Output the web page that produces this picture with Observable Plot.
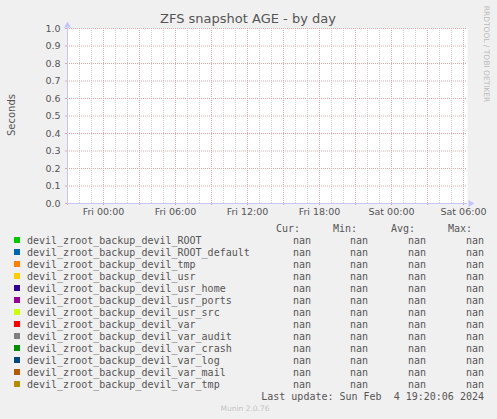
<!DOCTYPE html>
<html>
<head>
<meta charset="utf-8">
<script src="https://cdn.jsdelivr.net/npm/d3@7"></script>
<script src="https://cdn.jsdelivr.net/npm/@observablehq/plot@0.6"></script>
<style>
  html, body { margin: 0; padding: 0; background: #f0f0f0; }
</style>
</head>
<body>
<div id="chart"></div>
<script>
// ---- data ----
const title = "ZFS snapshot AGE - by day";
const yLabel = "Seconds";
const seriesNames = [
  "devil_zroot_backup_devil_ROOT",
  "devil_zroot_backup_devil_ROOT_default",
  "devil_zroot_backup_devil_tmp",
  "devil_zroot_backup_devil_usr",
  "devil_zroot_backup_devil_usr_home",
  "devil_zroot_backup_devil_usr_ports",
  "devil_zroot_backup_devil_usr_src",
  "devil_zroot_backup_devil_var",
  "devil_zroot_backup_devil_var_audit",
  "devil_zroot_backup_devil_var_crash",
  "devil_zroot_backup_devil_var_log",
  "devil_zroot_backup_devil_var_mail",
  "devil_zroot_backup_devil_var_tmp"
];
const seriesColors = ["#00CC00","#0066B3","#FF8000","#FFCC00","#330099","#990099","#CCFF00","#FF0000","#808080","#008F00","#00487D","#B35A00","#B38F00"];
const curValues = seriesNames.map(() => NaN);
const minValues = seriesNames.map(() => NaN);
const avgValues = seriesNames.map(() => NaN);
const maxValues = seriesNames.map(() => NaN);
const seriesPoints = []; // no samples recorded (all nan)
const xStart = new Date(Date.UTC(2024, 1, 1, 21, 0));
const xEnd = new Date(Date.UTC(2024, 1, 3, 6, 20));
const yTicks = [0, 0.1, 0.2, 0.3, 0.4, 0.5, 0.6, 0.7, 0.8, 0.9, 1.0];
const columnHeaders = ["Cur:", "Min:", "Avg:", "Max:"];
const lastUpdate = "Last update: Sun Feb  4 19:20:06 2024";
const watermark = "RRDTOOL / TOBI OETIKER";
const footer = "Munin 2.0.76";

// ---- chart ----
const W = 497, H = 419;
const minorHours = d3.utcHour.every(1).range(xStart, xEnd);
const majorHours = d3.utcHour.every(3).range(xStart, xEnd);
const labelHours = d3.utcHour.every(6).range(xStart, xEnd);
const axisBlue = "#c4c4ff";
const majorGrid = "#e6a6a6";
const minorGrid = "#d2d2d2";

const chart = Plot.plot({
  width: W,
  height: H,
  marginLeft: 67,
  marginRight: 30,
  marginTop: 28,
  marginBottom: 216,
  style: { background: "#f0f0f0", fontFamily: "DejaVu Sans", color: "#555", overflow: "visible" },
  x: { type: "utc", domain: [xStart, xEnd] },
  y: { domain: [0, 1] },
  marks: [
    Plot.frame({ fill: "white", stroke: null }),
    Plot.ruleX(minorHours, { y1: 0, y2: 1, stroke: minorGrid, strokeDasharray: "1,1" }),
    Plot.ruleX(majorHours, { y1: 0, y2: 1, stroke: majorGrid, strokeDasharray: "1,1" }),
    Plot.ruleY(yTicks, { x1: xStart, x2: xEnd, stroke: majorGrid, strokeDasharray: "1,1" }),
    ...seriesNames.map((name, i) =>
      Plot.line(seriesPoints.filter(d => d.series === name), { x: "t", y: "v", stroke: seriesColors[i] })),
    Plot.axisY({ ticks: yTicks, tickFormat: d3.format(".1f"), tickSize: 2, tickPadding: 5, stroke: majorGrid, fill: "#555", fontSize: 9.5, label: null }),
    Plot.axisX({ ticks: majorHours, tickFormat: () => "", tickSize: 2, stroke: majorGrid, label: null }),
    Plot.axisX({ ticks: labelHours, tickFormat: d3.utcFormat("%a %H:%M"), tickSize: 0, tickPadding: 5, fill: "#555", fontSize: 9.5, label: null }),
    Plot.ruleY([0], { x1: xStart, x2: xEnd, stroke: axisBlue }),
    Plot.ruleX([xStart], { y1: 0, y2: 1, stroke: axisBlue }),
    Plot.dot([[xStart, 1]], { x: d => d[0], y: d => d[1], symbol: "triangle", r: 2.6, fill: axisBlue, stroke: null, dy: -3 }),
    Plot.dot([[xEnd, 0]], { x: d => d[0], y: d => d[1], symbol: "triangle", r: 2.6, fill: axisBlue, stroke: null, dx: 3, rotate: 90 })
  ]
});
document.getElementById("chart").append(chart);

// ---- titles and legend ----
const svg = d3.select(chart);
const addText = (x, y, str, opts = {}) => svg.append("text")
  .attr("x", x).attr("y", y).attr("dy", opts.dy ?? "0.35em")
  .attr("text-anchor", opts.anchor ?? "start")
  .attr("font-family", opts.font ?? "DejaVu Sans Mono")
  .attr("font-size", opts.size ?? 10)
  .attr("fill", opts.fill ?? "#555")
  .attr("transform", opts.transform ?? null)
  .attr("xml:space", "preserve").style("white-space", "pre")
  .text(str);

addText(248, 23, title, { anchor: "middle", font: "DejaVu Sans", size: 13, dy: 0 });
addText(0, 0, yLabel, { anchor: "middle", font: "DejaVu Sans", size: 10, transform: "translate(11,115) rotate(-90)" });
addText(0, 0, watermark, { anchor: "middle", font: "DejaVu Sans", size: 7.5, fill: "#bbb", transform: "translate(487,54) rotate(90)" });

const headerX = [276, 333, 391, 448];
columnHeaders.forEach((h, j) => addText(headerX[j], 228, h));
const valueX = [311, 368, 426, 484];
const fmt = v => (Number.isFinite(v) ? v.toFixed(2) : "nan");
seriesNames.forEach((name, i) => {
  const y = 240 + 12 * i;
  svg.append("rect").attr("x", 14).attr("y", y - 3).attr("width", 6).attr("height", 6).attr("fill", seriesColors[i]);
  addText(27, y, name);
  [curValues, minValues, avgValues, maxValues].forEach((arr, j) => addText(valueX[j], y, fmt(arr[i]), { anchor: "end" }));
});
addText(484, 396, lastUpdate, { anchor: "end" });
addText(245, 408, footer, { anchor: "middle", font: "DejaVu Sans", size: 7.5, fill: "#c4c4c4" });
</script>
</body>
</html>
